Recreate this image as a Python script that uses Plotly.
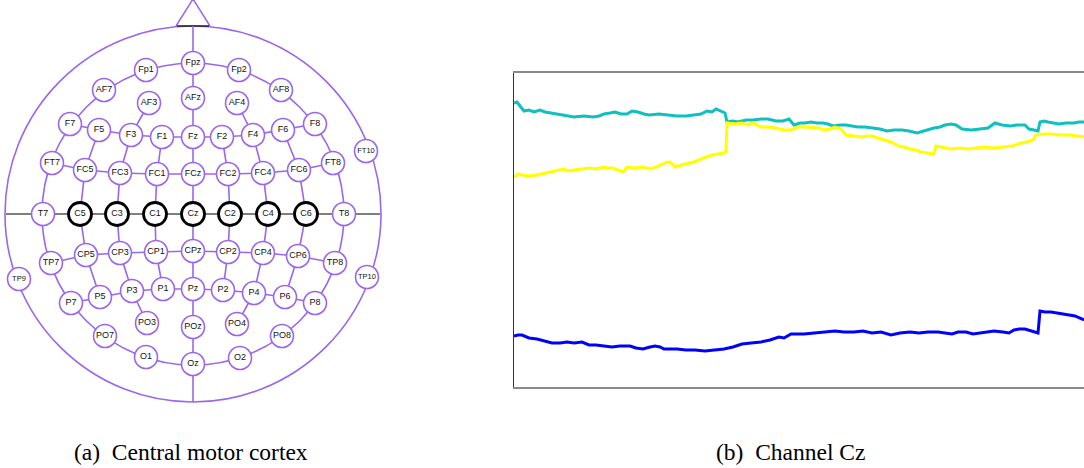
import plotly.graph_objects as go

# ---------------- Data: electrode layout (panel a) ----------------
electrodes = ["Fpz", "Fp1", "Fp2", "AF7", "AF8", "AF3", "AFz", "AF4",
              "F7", "F5", "F3", "F1", "Fz", "F2", "F4", "F6", "F8",
              "FT7", "FC5", "FC3", "FC1", "FCz", "FC2", "FC4", "FC6", "FT8", "FT10",
              "T7", "C5", "C3", "C1", "Cz", "C2", "C4", "C6", "T8",
              "TP9", "TP7", "CP5", "CP3", "CP1", "CPz", "CP2", "CP4", "CP6", "TP8", "TP10",
              "P7", "P5", "P3", "P1", "Pz", "P2", "P4", "P6", "P8",
              "PO7", "PO3", "POz", "PO4", "PO8", "O1", "Oz", "O2"]
elec_x = [193, 146, 239, 104, 281, 149, 193, 237,
          70, 99, 131, 162, 193, 222, 253, 283, 315,
          52, 85, 120, 157, 193, 228, 263, 299, 333, 366,
          43, 80, 117, 155, 193, 230, 268, 306, 344,
          19, 51, 86, 120, 156, 193, 228, 263, 298, 335, 367,
          71, 100, 132, 163, 193, 223, 254, 285, 315,
          105, 147, 193, 237, 282, 146, 193, 240]
elec_y = [63, 70, 70, 90, 90, 103, 98, 103,
          124, 130, 135, 137, 137, 137, 135, 130, 124,
          163, 170, 173, 174, 174, 174, 173, 170, 163, 151,
          214, 214, 214, 214, 214, 214, 214, 214, 214,
          279, 263, 255, 253, 252, 251, 252, 253, 256, 263, 277,
          303, 297, 291, 289, 289, 290, 293, 297, 303,
          336, 323, 327, 324, 336, 357, 364, 358]
highlighted = ["C5", "C3", "C1", "Cz", "C2", "C4", "C6"]

# grid connections (polylines through electrodes)
grid_paths = [
    ["F7", "F5", "F3", "F1", "Fz", "F2", "F4", "F6", "F8"],
    ["FT7", "FC5", "FC3", "FC1", "FCz", "FC2", "FC4", "FC6", "FT8"],
    ["TP7", "CP5", "CP3", "CP1", "CPz", "CP2", "CP4", "CP6", "TP8"],
    ["P7", "P5", "P3", "P1", "Pz", "P2", "P4", "P6", "P8"],
    ["AF3", "F3", "FC3", "C3", "CP3", "P3", "PO3"],
    ["AF4", "F4", "FC4", "C4", "CP4", "P4", "PO4"],
    ["F5", "FC5", "C5", "CP5", "P5"],
    ["F6", "FC6", "C6", "CP6", "P6"],
    ["F1", "FC1", "C1", "CP1", "P1"],
    ["F2", "FC2", "C2", "CP2", "P2"],
]

# ---------------- Data: channel Cz signals (panel b) ----------------
cyan_t = [0, 3, 6, 10, 15, 20, 26, 31, 37, 42, 50, 60, 70, 79, 85, 90, 96, 101, 107, 113, 118, 124, 130,
          135, 145, 154, 163, 172, 180, 187, 193, 198, 202, 206, 211,
          213, 219, 224, 232, 239, 247, 254, 262, 269, 275, 280, 286, 291, 297, 303, 309, 314, 319, 326,
          332, 338, 344, 351, 358, 366, 373, 380, 388, 395, 403,
          409, 414, 420, 426, 431, 437, 442, 448, 457, 466, 474, 481, 488, 496, 503, 511, 515, 520, 524,
          526, 530, 534, 540, 545, 552, 560, 565, 570]
cyan_v = [284, 285, 281, 276, 277, 275, 277, 275, 274, 273, 272, 270, 271, 270, 271, 273, 274, 275, 273,
          273, 276, 275, 273, 272, 273, 272, 271, 271, 272, 273, 276, 275, 278, 276, 274,
          265, 266, 265, 267, 267, 268, 268, 266, 266, 268, 262, 264, 264, 265, 264, 264, 263, 261, 262,
          262, 261, 260, 260, 259, 258, 256, 257, 257, 256, 254,
          256, 257, 259, 260, 262, 263, 262, 258, 257, 258, 259, 264, 262, 261, 262, 262, 258, 257, 256,
          265, 266, 265, 264, 263, 264, 264, 265, 265]
yellow_t = [0, 4, 8, 15, 23, 28, 34, 41, 49, 55, 60, 68, 75, 82, 90, 94, 98, 104, 109, 113, 120, 128,
            133, 137, 142, 146, 151, 156, 161, 167, 172, 180, 187, 193, 198, 204, 210, 212,
            213, 220, 228, 234, 239, 247, 254, 262, 270, 277, 284, 291, 299, 305, 310, 316, 321,
            327, 332, 340, 347, 353, 358, 364, 370, 377, 385, 390, 396, 402, 407, 414, 420,
            422, 430, 437, 446, 455, 462, 470, 480, 489, 498, 507, 513, 519, 522, 530, 537, 546,
            556, 563, 570]
yellow_v = [210, 213, 212, 211, 212, 213, 214, 216, 218, 216, 217, 218, 219, 218, 220, 219, 219, 217, 215,
            220, 219, 220, 219, 218, 220, 222, 224, 225, 220, 222, 223, 225, 228, 230, 232, 233, 234, 236,
            264, 263, 264, 262, 264, 260, 260, 259, 257, 257, 260, 260, 259, 259, 257, 258, 260,
            258, 252, 251, 250, 251, 251, 249, 247, 245, 241, 240, 238, 237, 235, 234, 233,
            241, 239, 238, 239, 238, 239, 240, 239, 240, 241, 244, 245, 247, 252, 253, 253, 252,
            252, 251, 250]
blue_t = [0, 4, 8, 15, 23, 30, 38, 46, 53, 60, 68, 75, 82, 90, 98, 106, 112, 116, 122, 129, 136, 141,
          146, 150, 154, 163, 172, 181, 191, 200, 210, 219, 228, 237, 247, 256, 265, 270, 277,
          290, 303, 312, 321, 330, 340, 349, 358, 367, 377, 386, 396, 405, 414, 424, 433, 438, 444,
          452, 459, 465, 470, 480, 489, 495, 500, 505, 511, 518, 524,
          526, 531, 537, 544, 552, 561, 570]
blue_v = [51, 52, 52, 49, 48, 46, 44, 44, 45, 44, 45, 42, 42, 41, 40, 41, 41, 41, 39, 38, 40, 41,
          40, 38, 38, 38, 37, 37, 36, 37, 38, 40, 43, 44, 45, 47, 50, 49, 53,
          53, 54, 55, 56, 55, 55, 56, 54, 55, 52, 54, 55, 54, 55, 55, 54, 53, 55,
          55, 53, 54, 55, 56, 55, 54, 57, 58, 58, 56, 54,
          76, 75, 75, 74, 73, 71, 67]

captions = ["(a)  Central motor cortex", "(b)  Channel Cz"]

# ---------------- Styling ----------------
PURPLE = "#9a66ee"
W, H = 1084, 468
head_cx, head_cy, head_r, ring_r = 193, 214, 188, 151

pos = {n: (x, y) for n, x, y in zip(electrodes, elec_x, elec_y)}

fig = go.Figure()

# grid lines
gx, gy = [], []
for path in grid_paths:
    for n in path:
        gx.append(pos[n][0]); gy.append(pos[n][1])
    gx.append(None); gy.append(None)
# midline
gx += [head_cx, head_cx, None]
gy += [head_cy - head_r, head_cy + head_r, None]
fig.add_trace(go.Scatter(x=gx, y=gy, mode="lines", line=dict(color=PURPLE, width=1.6),
                         hoverinfo="skip", showlegend=False, xaxis="x", yaxis="y"))
# central horizontal line
fig.add_trace(go.Scatter(x=[head_cx - head_r + 1, head_cx + head_r - 1], y=[head_cy, head_cy],
                         mode="lines", line=dict(color="#555555", width=1.5),
                         hoverinfo="skip", showlegend=False, xaxis="x", yaxis="y"))

line_cols = ["#000000" if n in highlighted else PURPLE for n in electrodes]
line_ws = [2.8 if n in highlighted else 1.6 for n in electrodes]
tsize = [7.5 if n in ("FT10", "TP9", "TP10") else 9 for n in electrodes]
fig.add_trace(go.Scatter(
    x=elec_x, y=elec_y, mode="markers+text", text=electrodes,
    textposition="middle center",
    textfont=dict(family="Liberation Sans, Arial", size=tsize, color="#111111"),
    marker=dict(size=23, color="white", line=dict(color=line_cols, width=line_ws)),
    hoverinfo="text", showlegend=False, xaxis="x", yaxis="y"))

# signals
fig.add_trace(go.Scatter(x=cyan_t, y=cyan_v, mode="lines", line=dict(color="#10bfc0", width=3),
                         showlegend=False, xaxis="x2", yaxis="y2"))
fig.add_trace(go.Scatter(x=yellow_t, y=yellow_v, mode="lines", line=dict(color="#ffff00", width=3),
                         showlegend=False, xaxis="x2", yaxis="y2"))
fig.add_trace(go.Scatter(x=blue_t, y=blue_v, mode="lines", line=dict(color="#0000ff", width=3),
                         showlegend=False, xaxis="x2", yaxis="y2"))

shapes = [
    dict(type="circle", xref="x", yref="y", x0=head_cx - head_r, x1=head_cx + head_r,
         y0=head_cy - head_r, y1=head_cy + head_r, line=dict(color=PURPLE, width=1.6), layer="below"),
    dict(type="circle", xref="x", yref="y", x0=head_cx - ring_r, x1=head_cx + ring_r,
         y0=head_cy - ring_r, y1=head_cy + ring_r, line=dict(color=PURPLE, width=1.6), layer="below"),
    dict(type="path", xref="x", yref="y",
         path=f"M {head_cx-17} {head_cy-head_r} L {head_cx} {head_cy-head_r-27} L {head_cx+17} {head_cy-head_r}",
         line=dict(color=PURPLE, width=1.5), layer="below"),
    dict(type="line", xref="x", yref="y", x0=head_cx - 16, x1=head_cx + 16,
         y0=head_cy - head_r, y1=head_cy - head_r, line=dict(color="#222222", width=1.5), layer="below"),
]

annotations = [
    dict(text=captions[0], x=191 / W, y=(H - 452) / H, xref="paper", yref="paper",
         showarrow=False, font=dict(family="Liberation Serif, Times New Roman", size=23.5, color="black"),
         xanchor="center", yanchor="middle"),
    dict(text=captions[1], x=790 / W, y=(H - 452) / H, xref="paper", yref="paper",
         showarrow=False, font=dict(family="Liberation Serif, Times New Roman", size=23.5, color="black"),
         xanchor="center", yanchor="middle"),
]

fig.update_layout(
    width=W, height=H, margin=dict(l=0, r=0, t=0, b=0),
    paper_bgcolor="white", plot_bgcolor="white",
    xaxis=dict(domain=[0, 390 / W], range=[0, 390], visible=False, fixedrange=True),
    yaxis=dict(domain=[0, 1], range=[H, 0], visible=False, fixedrange=True),
    xaxis2=dict(domain=[514 / W, 1], range=[0, 570], showgrid=False, zeroline=False,
                showticklabels=False, ticks="", showline=True, linecolor="#8a8a8a", linewidth=2,
                mirror=True, anchor="y2"),
    yaxis2=dict(domain=[(H - 387) / H, (H - 73) / H], range=[0, 314], showgrid=False, zeroline=False,
                showticklabels=False, ticks="", showline=True, linecolor="#333333", linewidth=1,
                anchor="x2"),
    shapes=shapes, annotations=annotations,
)

fig.write_html("out.html", config={"displayModeBar": False},
               post_script="document.body.style.margin='0px';document.body.style.overflow='hidden';")
